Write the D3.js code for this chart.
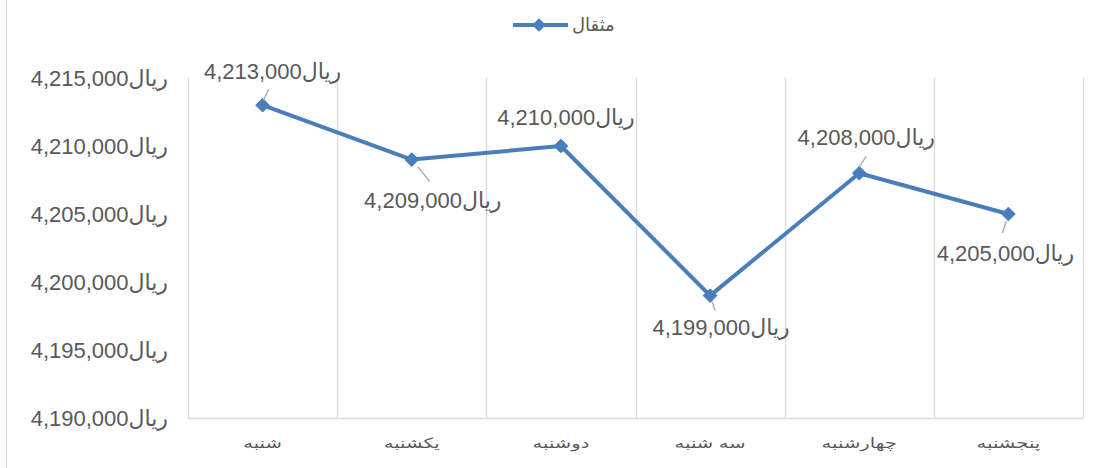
<!DOCTYPE html>
<html>
<head>
<meta charset="utf-8">
<script src="https://cdn.jsdelivr.net/npm/d3@7"></script>
<style>
  html, body { margin: 0; padding: 0; background: #fff; }
  svg { display: block; font-family: Arial, "Liberation Sans", "DejaVu Sans", sans-serif; }
</style>
</head>
<body>
<svg id="chart"></svg>
<script>
// Weekdays (Saturday -> Thursday)
const days = ['شنبه', 'یکشنبه', 'دوشنبه', 'سه شنبه', 'چهارشنبه', 'پنجشنبه'];
// price of one mesghal, rial
const prices = [4213000, 4209000, 4210000, 4199000, 4208000, 4205000];
const yTicks = [4190000, 4195000, 4200000, 4205000, 4210000, 4215000];
const seriesName = 'مثقال';
const currency = 'ریال';

// label placement relative to each point: [dx, dy, leader x1, y1, x2, y2]
const labelPos = [
  [10, -26, 1, -5, 6, -16],
  [21, 48, 6, 7, 18, 22],
  [5, -21, 0, 0, 0, 0],
  [11, 39, 2, 6, 5, 15],
  [7, -28, 0, -6, 7, -17],
  [-3, 47, -2, 7, -6, 19]
];

const width = 1102, height = 468;
const margin = { top: 78, right: 19, bottom: 50, left: 188 };
const grey = '#595959';
const blue = '#4a7ebb';

const svg = d3.select('#chart')
  .attr('width', width)
  .attr('height', height)
  .attr('viewBox', `0 0 ${width} ${height}`);

// chart area border (left edge visible)
svg.append('line')
  .attr('x1', 6.5).attr('x2', 6.5)
  .attr('y1', 0).attr('y2', height)
  .attr('stroke', '#d9d9d9').attr('stroke-width', 1);

const x = d3.scaleBand()
  .domain(days)
  .range([margin.left, width - margin.right]);

const y = d3.scaleLinear()
  .domain([yTicks[0], yTicks[yTicks.length - 1]])
  .range([height - margin.bottom, margin.top]);

// vertical gridlines at category boundaries
const edges = days.map(d => x(d)).concat([x.range()[1]]);
svg.append('g')
  .selectAll('line')
  .data(edges)
  .join('line')
  .attr('x1', d => Math.round(d) + 0.5)
  .attr('x2', d => Math.round(d) + 0.5)
  .attr('y1', y.range()[1])
  .attr('y2', y.range()[0])
  .attr('stroke', '#d9d9d9')
  .attr('stroke-width', 1.3);

// bottom axis line
svg.append('line')
  .attr('x1', x.range()[0]).attr('x2', x.range()[1])
  .attr('y1', y.range()[0] + 0.5).attr('y2', y.range()[0] + 0.5)
  .attr('stroke', '#d9d9d9').attr('stroke-width', 1.3);

const fmt = d3.format(',');

// y tick labels
svg.append('g')
  .selectAll('text')
  .data(yTicks)
  .join('text')
  .attr('x', 168)
  .attr('y', d => y(d))
  .attr('dy', '0.35em')
  .attr('text-anchor', 'end')
  .attr('direction', 'ltr')
  .attr('font-size', '22px')
  .attr('fill', grey)
  .text(d => fmt(d) + currency);

// x labels (stretched a little, Excel spaces the letters out)
svg.append('g')
  .selectAll('text')
  .data(days)
  .join('text')
  .attr('transform', d => `translate(${x(d) + x.bandwidth() / 2},448) scale(1.4,1)`)
  .attr('text-anchor', 'middle')
  .attr('font-size', '14px')
  .attr('fill', grey)
  .text(d => d);

// series line
const cx = (d, i) => x(days[i]) + x.bandwidth() / 2;
const line = d3.line()
  .x((d, i) => cx(d, i))
  .y(d => y(d));

svg.append('path')
  .datum(prices)
  .attr('d', line)
  .attr('fill', 'none')
  .attr('stroke', blue)
  .attr('stroke-width', 4)
  .attr('stroke-linejoin', 'round');

const diamond = d3.symbol().type(d3.symbolDiamond2).size(120);
svg.append('g')
  .selectAll('path')
  .data(prices)
  .join('path')
  .attr('transform', (d, i) => `translate(${cx(d, i)},${y(d)})`)
  .attr('d', diamond)
  .attr('fill', blue)
  .attr('stroke', blue)
  .attr('stroke-width', 1);

// leader lines
svg.append('g')
  .selectAll('line')
  .data(prices)
  .join('line')
  .attr('x1', (d, i) => cx(d, i) + labelPos[i][2])
  .attr('y1', (d, i) => y(d) + labelPos[i][3])
  .attr('x2', (d, i) => cx(d, i) + labelPos[i][4])
  .attr('y2', (d, i) => y(d) + labelPos[i][5])
  .attr('stroke', '#a6a6a6')
  .attr('stroke-width', 1.3);

// data labels
svg.append('g')
  .selectAll('text')
  .data(prices)
  .join('text')
  .attr('x', (d, i) => cx(d, i) + labelPos[i][0])
  .attr('y', (d, i) => y(d) + labelPos[i][1])
  .attr('text-anchor', 'middle')
  .attr('direction', 'ltr')
  .attr('font-size', '22px')
  .attr('fill', grey)
  .text(d => fmt(d) + currency);

// legend
const lg = svg.append('g').attr('transform', 'translate(513,25)');
lg.append('line')
  .attr('x1', 0).attr('x2', 55)
  .attr('y1', 0).attr('y2', 0)
  .attr('stroke', blue).attr('stroke-width', 4);
lg.append('path')
  .attr('transform', 'translate(26,0)')
  .attr('d', diamond)
  .attr('fill', blue);
lg.append('text')
  .attr('x', 59)
  .attr('y', 0)
  .attr('dy', '0.35em')
  .attr('font-size', '18px')
  .attr('fill', grey)
  .text(seriesName);
</script>
</body>
</html>
